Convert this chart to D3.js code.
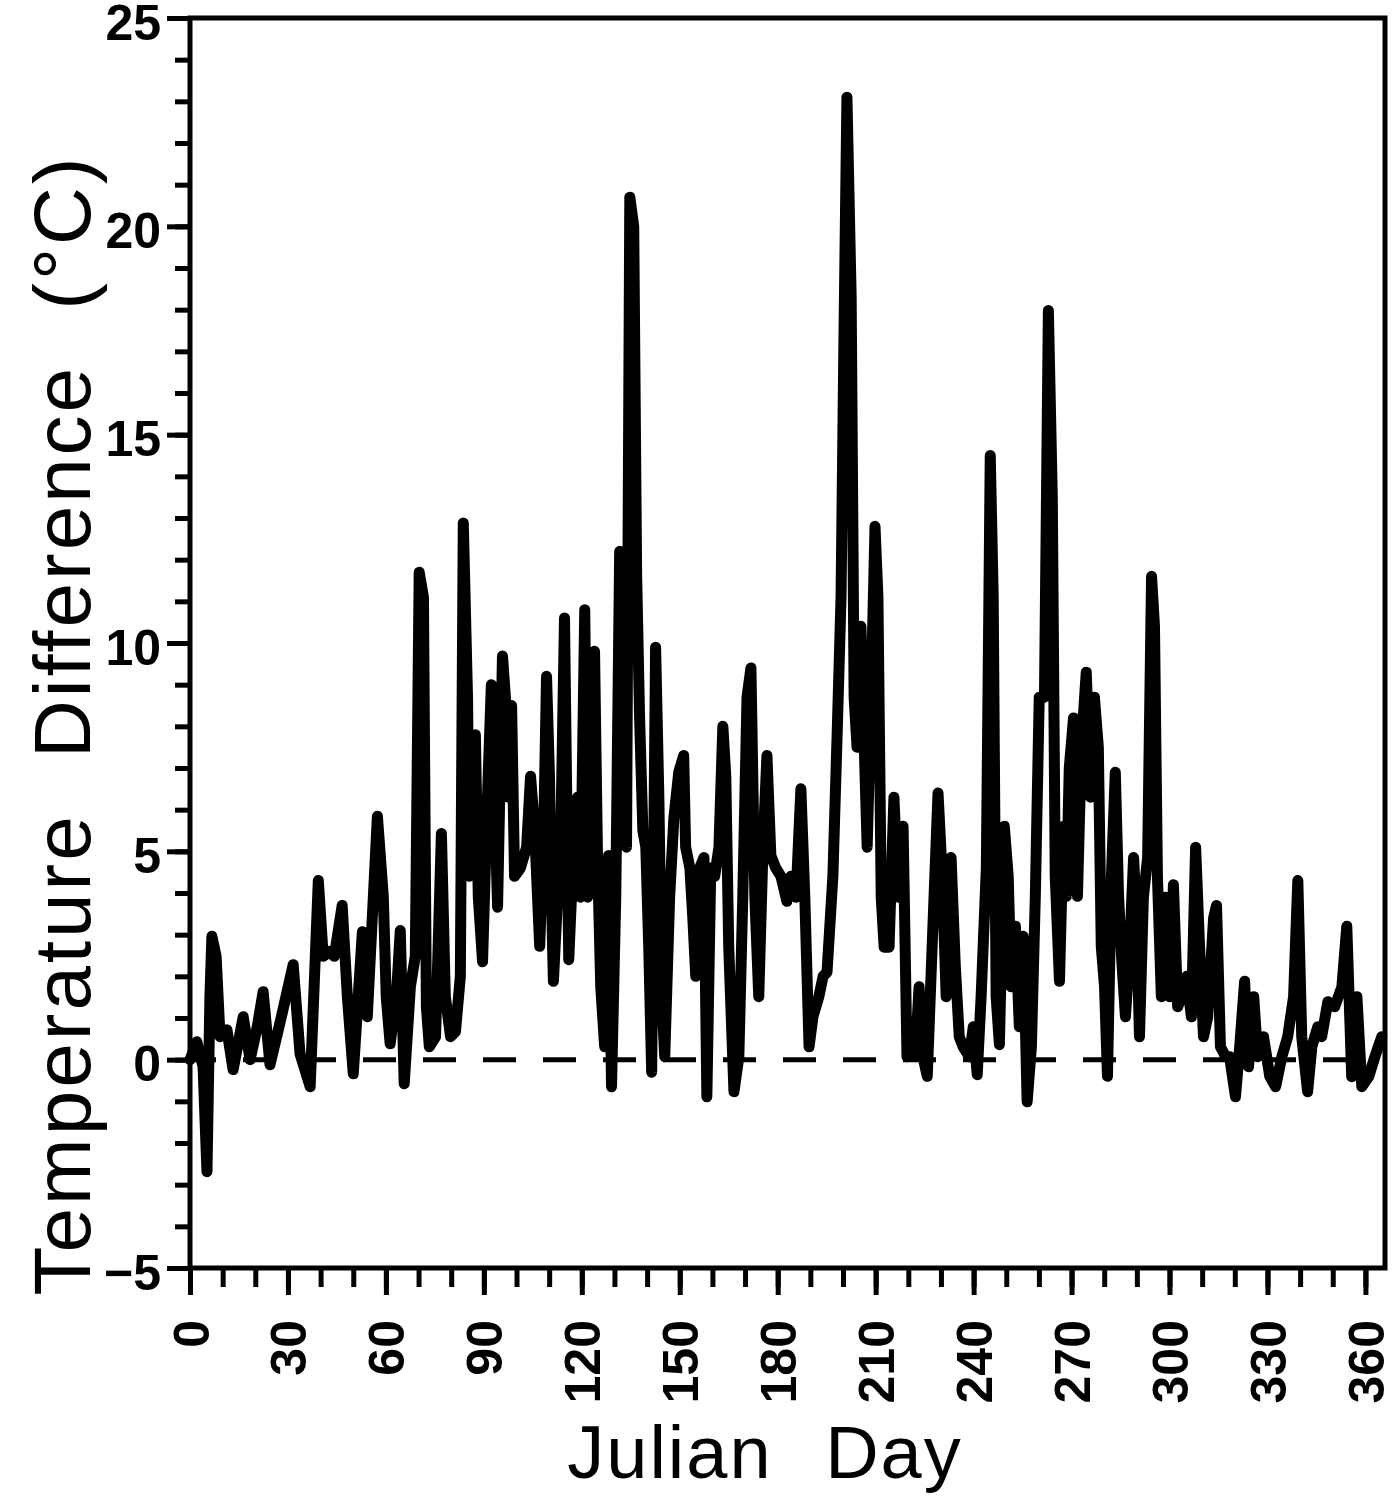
<!DOCTYPE html>
<html>
<head>
<meta charset="utf-8">
<script src="https://cdn.jsdelivr.net/npm/d3@7"></script>
<style>
  html, body { margin: 0; padding: 0; background: #fff; }
  svg { display: block; }
</style>
</head>
<body>
<svg id="chart" width="1400" height="1500"></svg>
<script>
// ---- data (Julian day, temperature difference °C) ----
const days = [0,2.1,4.0,5.2,6.1,6.7,8.0,9.2,11.3,13.2,16.3,18.4,20.6,22.4,24.5,28.2,31.6,33.7,36.8,39.3,
  40.8,42.9,44.2,46.6,48.2,50.0,52.8,54.3,57.4,59.2,60.1,61.3,63.2,64.4,65.6,67.5,69.0,70.2,71.5,72.4,
  73.3,75.2,77.0,78.2,79.8,81.3,82.8,83.7,85.0,85.6,86.5,87.4,88.3,89.6,91.1,92.3,93.3,94.2,95.7,96.6,
  97.5,98.5,99.4,101.2,103.1,104.3,105.5,107.1,108.3,109.2,110.1,110.7,111.3,112.6,113.5,114.7,116.0,117.5,118.7,119.6,
  120.9,121.8,122.7,123.9,124.8,125.8,127.0,128.2,129.1,130.4,131.6,132.8,133.7,134.7,135.9,136.8,137.7,138.7,139.6,140.5,
  141.4,142.6,143.6,144.5,145.4,146.9,148.2,149.7,151.2,151.8,153.1,154.0,154.9,156.1,157.4,158.3,159.5,160.7,162.0,163.2,
  164.1,165.0,166.6,168.1,169.3,170.6,171.8,173.0,174.2,175.5,176.7,177.9,179.4,181.0,182.8,184.0,185.6,187.1,188.3,189.6,
  190.8,192.6,193.9,195.1,196.9,198.2,199.4,200.3,201.2,202.5,203.4,204.3,205.5,206.4,207.4,208.6,209.8,210.7,211.7,212.6,
  214.1,215.6,216.9,218.4,219.6,220.9,222.1,223.3,224.5,225.8,227.3,229.1,230.4,231.6,233.1,234.4,235.6,236.8,238.7,239.9,
  241.1,242.3,243.9,245.1,246.0,246.9,247.9,249.4,250.6,251.5,252.8,254.0,255.2,256.4,257.7,258.9,260.1,261.7,262.9,264.1,
  265.0,266.3,267.5,268.4,269.3,270.6,271.8,273.0,274.5,275.8,277.0,278.2,279.1,280.1,281.0,282.2,283.4,284.4,285.3,286.5,
  287.7,289.0,289.9,290.8,292.0,293.3,294.5,295.4,296.3,297.5,298.8,300.0,301.2,302.5,303.7,305.2,306.7,308.0,309.2,310.4,
  311.7,313.5,314.4,315.6,317.2,318.4,320.2,321.5,323.0,324.2,325.8,327.0,328.8,330.7,332.5,334.4,336.2,338.0,339.3,340.5,
  342.3,343.6,345.4,346.6,348.5,350.6,352.8,354.3,355.8,357.4,358.9,361.0,362.9,365.0];
const tempDiff = [0,0.43,-0.17,-2.69,1.51,2.96,2.48,0.55,0.72,-0.24,1.03,0,0.79,1.63,-0.12,1.10,2.28,0.14,-0.65,4.30,
  2.48,2.6,2.48,3.7,1.51,-0.34,3.07,1.03,5.84,3.92,1.51,0.38,1.51,3.1,-0.58,1.75,2.48,11.7,11.1,1.27,
  0.31,0.55,5.43,1.51,0.55,0.67,2.0,12.88,8.7,4.4,5.4,7.8,3.9,2.35,6.3,9.0,6.3,3.66,9.69,8.7,
  6.3,8.5,4.4,4.6,5.1,6.8,5.6,2.72,5.36,9.2,6.8,3.92,1.88,3.92,5.1,10.6,2.4,5.1,6.3,3.9,
  10.8,3.9,6.8,9.8,4.9,1.75,0.31,4.9,-0.65,3.92,12.2,10.6,5.1,20.7,20.0,11.6,8.2,5.5,5.1,2.7,
  -0.3,9.9,6.3,1.51,0.07,3.9,5.8,6.9,7.3,5.1,4.6,3.4,2.0,4.6,4.85,-0.89,4.6,4.4,5.1,8.0,
  6.8,2.7,-0.77,0.07,3.9,8.7,9.4,3.9,1.51,5.1,7.3,4.9,4.6,4.4,3.8,4.4,3.9,6.5,3.9,0.31,
  1.03,1.51,2.0,2.1,4.4,7.8,11.1,17.4,23.1,18.3,8.7,7.5,10.4,7.8,5.1,8.7,12.8,11.1,3.9,2.7,
  2.7,6.3,3.9,5.6,0.07,0.31,0.07,1.75,0.07,-0.4,2.72,6.4,4.4,1.51,4.85,2.24,0.55,0.31,0.07,0.79,
  -0.36,1.51,4.6,14.5,11.1,1.51,0.36,5.6,4.4,1.75,3.2,0.79,2.96,-1.01,0.31,3.92,8.7,8.7,17.98,13.5,
  4.4,1.88,5.6,3.92,7.0,8.2,3.92,7.5,9.3,6.3,8.7,7.5,2.72,1.75,-0.4,4.4,6.9,3.92,2.48,1.03,
  2.48,4.85,3.4,0.55,3.9,4.85,11.6,10.4,4.4,1.51,3.9,1.51,4.2,1.27,1.51,2.0,1.03,5.1,2.72,0.55,
  1.03,3.4,3.7,0.31,0.07,0.07,-0.89,0.31,1.88,-0.17,1.51,0.07,0.55,-0.4,-0.65,0.07,0.55,1.51,4.3,0.55,
  -0.77,0.31,0.79,0.55,1.39,1.27,1.75,3.2,-0.41,1.51,-0.65,-0.41,0.07,0.55];

const xTickLabels = [0,30,60,90,120,150,180,210,240,270,300,330,360];
const xMinorTicks = d3.range(0, 361, 10);
const yTickLabels = [-5,0,5,10,15,20,25];
const yMinorTicks = d3.range(-5, 26, 1);
const xTitle = "Julian Day";
const yTitle = "Temperature Difference (°C)";

(function draw() {
  const svg = d3.select("#chart");
  const mLeft = 190, mRight = 1385, mTop = 18, mBottom = 1268;

  const x = d3.scaleLinear().domain([0, 366]).range([mLeft, mRight]);
  const y = d3.scaleLinear().domain([-5, 25]).range([mBottom, mTop]);

  const tickFont = "'Liberation Sans', Arial, sans-serif";

  // minor x ticks
  svg.append("g")
    .attr("transform", `translate(0,${mBottom})`)
    .call(d3.axisBottom(x).tickValues(xMinorTicks).tickSize(19).tickFormat(""))
    .call(g => g.select(".domain").remove())
    .call(g => g.selectAll("line").attr("stroke", "#000").attr("stroke-width", 5));

  // major x ticks with labels
  svg.append("g")
    .attr("transform", `translate(0,${mBottom})`)
    .call(d3.axisBottom(x).tickValues(xTickLabels).tickSize(27).tickFormat(d3.format("d")))
    .call(g => g.select(".domain").remove())
    .call(g => g.selectAll("line").attr("stroke", "#000").attr("stroke-width", 5))
    .call(g => g.selectAll("text")
      .attr("transform", "rotate(-90)")
      .attr("x", -52).attr("y", 0).attr("dy", "0.36em")
      .attr("text-anchor", "end")
      .attr("fill", "#000")
      .style("font-family", tickFont).style("font-weight", "bold").style("font-size", "50px"));

  // minor y ticks
  svg.append("g")
    .attr("transform", `translate(${mLeft},0)`)
    .call(d3.axisLeft(y).tickValues(yMinorTicks).tickSize(15).tickFormat(""))
    .call(g => g.select(".domain").remove())
    .call(g => g.selectAll("line").attr("stroke", "#000").attr("stroke-width", 5));

  // major y ticks with labels
  svg.append("g")
    .attr("transform", `translate(${mLeft},0)`)
    .call(d3.axisLeft(y).tickValues(yTickLabels).tickSize(23).tickPadding(6)
      .tickFormat(d => d < 0 ? "\u2212" + Math.abs(d) : String(d)))
    .call(g => g.select(".domain").remove())
    .call(g => g.selectAll("line").attr("stroke", "#000").attr("stroke-width", 5))
    .call(g => g.selectAll("text")
      .attr("fill", "#000").attr("dy", "0.42em")
      .style("font-family", tickFont).style("font-weight", "bold").style("font-size", "50px"));

  // frame
  svg.append("rect")
    .attr("x", mLeft).attr("y", mTop)
    .attr("width", mRight - mLeft).attr("height", mBottom - mTop)
    .attr("fill", "none").attr("stroke", "#000").attr("stroke-width", 5);

  // zero dashed line
  svg.append("line")
    .attr("x1", x(0)).attr("x2", x(366))
    .attr("y1", y(0)).attr("y2", y(0))
    .attr("stroke", "#000").attr("stroke-width", 5)
    .attr("stroke-dasharray", "33,27").attr("stroke-dashoffset", 7);

  // data line
  const pts = days.map((d, i) => [d, tempDiff[i]]);
  svg.append("path")
    .datum(pts)
    .attr("fill", "none")
    .attr("stroke", "#000")
    .attr("stroke-width", 11)
    .attr("stroke-linejoin", "round")
    .attr("stroke-linecap", "round")
    .attr("d", d3.line().x(d => x(d[0])).y(d => y(d[1])));

  // axis titles
  svg.append("text")
    .attr("x", 765).attr("y", 1478)
    .attr("text-anchor", "middle")
    .style("font-family", "'Liberation Sans', Arial, sans-serif")
    .style("font-size", "74px")
    .style("word-spacing", "30px")
    .style("letter-spacing", "2px")
    .text(xTitle);

  svg.append("text")
    .attr("transform", "translate(90,725) rotate(-90)")
    .attr("text-anchor", "middle")
    .style("font-family", "'Liberation Sans', Arial, sans-serif")
    .style("font-size", "80px")
    .style("word-spacing", "30px")
    .style("letter-spacing", "3px")
    .text(yTitle);
})();
</script>
</body>
</html>
